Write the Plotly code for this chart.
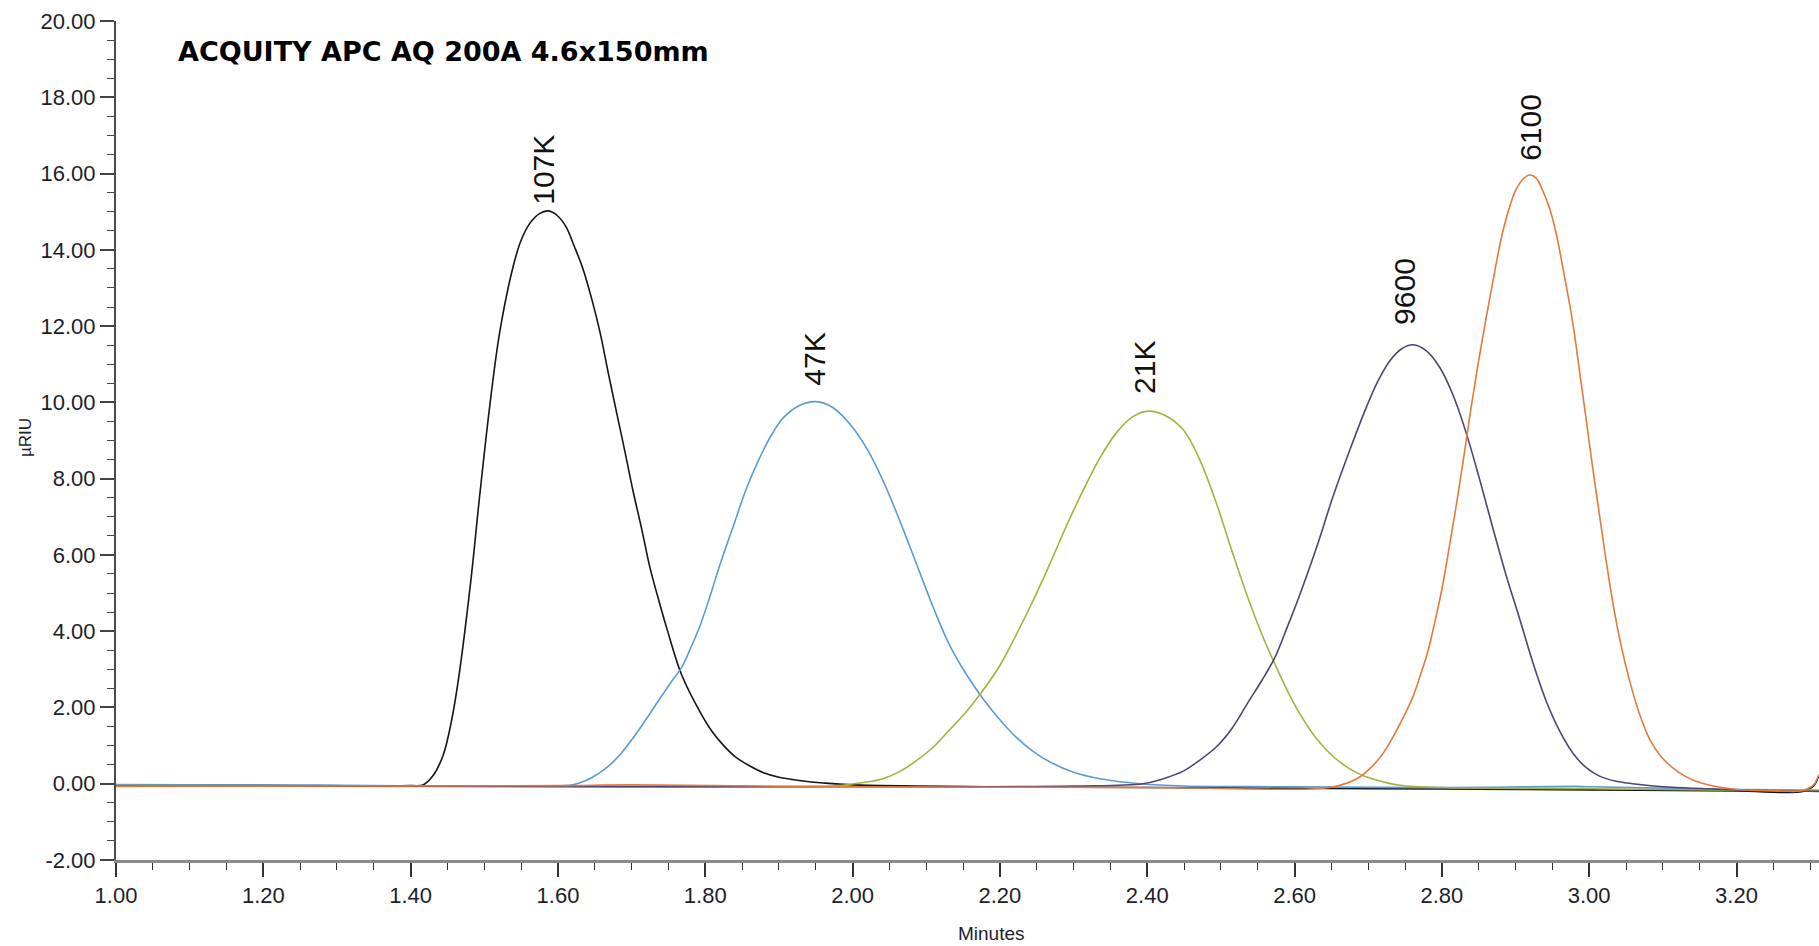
import plotly.graph_objects as go

# ---------------- data ----------------
t_107k = [1.00, 1.20, 1.40, 1.417, 1.430, 1.444, 1.455, 1.465, 1.481, 1.494, 1.508, 1.521, 1.539,
          1.550, 1.562, 1.575, 1.587, 1.599, 1.611, 1.622, 1.634, 1.646, 1.657, 1.668, 1.680,
          1.691, 1.702, 1.714, 1.725, 1.737, 1.748, 1.768, 1.793, 1.810, 1.825, 1.840, 1.860,
          1.880, 1.900, 1.930, 1.960, 2.00, 2.20, 2.40, 2.60, 2.80, 3.00, 3.20, 3.29, 3.305,
          3.312]
v_107k = [-0.03, -0.04, -0.05, -0.03, 0.20, 0.74, 1.60, 2.75, 5.20, 7.60, 10.00, 11.85, 13.55,
          14.25, 14.70, 14.95, 15.02, 14.90, 14.60, 14.10, 13.50, 12.70, 11.85, 10.80, 9.70,
          8.70, 7.67, 6.65, 5.66, 4.80, 4.06, 2.85, 1.88, 1.35, 1.00, 0.72, 0.47,
          0.28, 0.17, 0.08, 0.02, -0.03, -0.08, -0.10, -0.12, -0.14, -0.16, -0.19, -0.20, -0.05,
          0.22]

t_47k = [1.00, 1.30, 1.58, 1.62, 1.645, 1.666, 1.685, 1.702, 1.720, 1.738, 1.755, 1.768, 1.780,
         1.793, 1.807, 1.820, 1.838, 1.856, 1.874, 1.890, 1.906, 1.928, 1.950, 1.972, 1.996,
         2.019, 2.041, 2.064, 2.087, 2.110, 2.132, 2.155, 2.177, 2.200, 2.222, 2.245, 2.268,
         2.300, 2.336, 2.390, 2.45, 2.60, 2.80, 2.98, 3.00, 3.20, 3.312]
v_47k = [-0.02, -0.04, -0.06, -0.03, 0.15, 0.42, 0.78, 1.20, 1.70, 2.22, 2.70, 3.05, 3.55,
         4.15, 4.95, 5.75, 6.75, 7.75, 8.55, 9.15, 9.60, 9.92, 10.02, 9.88, 9.44,
         8.80, 7.96, 6.90, 5.75, 4.60, 3.62, 2.85, 2.23, 1.68, 1.22, 0.85, 0.57,
         0.30, 0.13, 0.00, -0.06, -0.08, -0.10, -0.07, -0.08, -0.15, -0.17]

t_21k = [1.00, 1.40, 1.70, 1.95, 1.987, 2.015, 2.041, 2.065, 2.087, 2.110, 2.132, 2.155, 2.177,
         2.200, 2.222, 2.245, 2.268, 2.290, 2.313, 2.336, 2.358, 2.380, 2.402, 2.425, 2.449,
         2.470, 2.494, 2.515, 2.539, 2.556, 2.573, 2.590, 2.607, 2.630, 2.652, 2.675, 2.697,
         2.720, 2.743, 2.80, 3.00, 3.20, 3.312]
v_21k = [-0.05, -0.06, -0.08, -0.07, -0.04, 0.03, 0.13, 0.33, 0.61, 0.97, 1.42, 1.90, 2.45,
         3.10, 3.90, 4.80, 5.77, 6.75, 7.69, 8.55, 9.20, 9.62, 9.77, 9.65, 9.28,
         8.55, 7.35, 6.10, 4.75, 3.90, 3.15, 2.45, 1.84, 1.18, 0.72, 0.39, 0.18,
         0.05, -0.04, -0.10, -0.13, -0.17, -0.18]

t_9600 = [1.00, 1.50, 2.00, 2.30, 2.394, 2.420, 2.449, 2.470, 2.494, 2.515, 2.539, 2.556, 2.573,
          2.590, 2.607, 2.630, 2.652, 2.675, 2.697, 2.713, 2.729, 2.745, 2.761, 2.779, 2.797,
          2.815, 2.833, 2.851, 2.869, 2.887, 2.906, 2.924, 2.942, 2.960, 2.978, 2.996, 3.014,
          3.035, 3.059, 3.10, 3.20, 3.312]
v_9600 = [-0.06, -0.07, -0.08, -0.06, 0.00, 0.12, 0.33, 0.60, 0.97, 1.45, 2.20, 2.72, 3.30,
          4.10, 4.95, 6.20, 7.52, 8.75, 9.85, 10.55, 11.08, 11.40, 11.51, 11.35, 10.92,
          10.20, 9.20, 8.00, 6.72, 5.48, 4.30, 3.15, 2.15, 1.38, 0.80, 0.42, 0.20,
          0.07, 0.00, -0.08, -0.16, -0.20]

t_6100 = [1.00, 1.30, 1.60, 1.70, 2.00, 2.40, 2.629, 2.660, 2.688, 2.705, 2.720, 2.740, 2.760,
          2.770, 2.780, 2.790, 2.800, 2.810, 2.820, 2.830, 2.840, 2.850, 2.860, 2.870, 2.880,
          2.890, 2.900, 2.910, 2.919, 2.928, 2.937, 2.946, 2.955, 2.966, 2.978, 2.987, 2.996,
          3.005, 3.014, 3.023, 3.032, 3.043, 3.055, 3.068, 3.082, 3.098, 3.114, 3.130, 3.150,
          3.195, 3.250, 3.286, 3.300, 3.306, 3.312]
v_6100 = [-0.07, -0.06, -0.05, -0.03, -0.08, -0.10, -0.13, -0.05, 0.17, 0.45, 0.79, 1.45, 2.25,
          2.80, 3.40, 4.20, 5.10, 6.20, 7.35, 8.60, 9.90, 11.10, 12.20, 13.25, 14.25,
          15.00, 15.55, 15.85, 15.96, 15.88, 15.55, 15.10, 14.44, 13.35, 12.05, 10.80, 9.54,
          8.25, 7.04, 5.85, 4.76, 3.65, 2.69, 1.85, 1.17, 0.70, 0.41, 0.20, 0.03,
          -0.14, -0.18, -0.19, -0.10, 0.00, 0.24]

peak_labels = ["107K", "47K", "21K", "9600", "6100"]
label_time = [1.580, 1.949, 2.396, 2.749, 2.920]     # minutes (centre of each label)
label_base = [15.16, 10.40, 10.19, 12.00, 16.30]     # µRIU (bottom of each label)

y_tick_vals = [-2, 0, 2, 4, 6, 8, 10, 12, 14, 16, 18, 20]
y_tick_text = ["-2.00", "0.00", "2.00", "4.00", "6.00", "8.00", "10.00", "12.00", "14.00",
               "16.00", "18.00", "20.00"]

title_text = "ACQUITY APC AQ 200A 4.6x150mm"

# ---------------- styling ----------------
W, H = 1819, 946
ML, MR, MT, MB = 116, 0, 21, 86
PW, PH = W - ML - MR, H - MT - MB

series = [
    (t_107k, v_107k, "#151515", "107K"),
    (t_47k, v_47k, "#5b9bd5", "47K"),
    (t_21k, v_21k, "#a4b23e", "21K"),
    (t_9600, v_9600, "#4a4778", "9600"),
    (t_6100, v_6100, "#e27b3b", "6100"),
]

fig = go.Figure()
for t, v, col, name in series:
    fig.add_trace(go.Scatter(x=t, y=v, mode="lines", name=name,
                             line=dict(color=col, width=1.6, shape="spline", smoothing=1.0),
                             showlegend=False, hoverinfo="x+y+name"))

tick_font = dict(family="Liberation Sans, Arial, sans-serif", size=22, color="#1e1e2a")

fig.update_layout(
    width=W, height=H,
    margin=dict(l=ML, r=MR, t=MT, b=MB, pad=0),
    paper_bgcolor="white", plot_bgcolor="white",
    xaxis=dict(range=[1.0, 3.312], dtick=0.2, tick0=1.0, tickformat=".2f",
               showgrid=False, zeroline=False, showline=True, linecolor="#8a8a8a", linewidth=3,
               ticks="outside", ticklen=14, tickwidth=1.5, tickcolor="#333",
               tickfont=tick_font,
               minor=dict(dtick=0.05, ticks="outside", ticklen=7, tickwidth=1.3, tickcolor="#333")),
    yaxis=dict(range=[-2, 20], tickmode="array", tickvals=y_tick_vals, ticktext=y_tick_text,
               showgrid=False, zeroline=False, showline=True, linecolor="#4a4a4a", linewidth=2,
               ticks="outside", ticklen=14, tickwidth=1.5, tickcolor="#444",
               tickfont=tick_font,
               minor=dict(tickmode="linear", tick0=0, dtick=0.5, ticks="outside", ticklen=7,
                          tickwidth=1.3, tickcolor="#444")),
)

annotations = []
for lab, tx, ty in zip(peak_labels, label_time, label_base):
    annotations.append(dict(x=tx, y=ty, xref="x", yref="y", text=lab, showarrow=False,
                            textangle=-90, xanchor="center", yanchor="bottom", borderpad=0,
                            font=dict(family="Liberation Sans, Arial, sans-serif", size=30,
                                      color="#111111")))


def px_x(p):
    return (p - ML) / PW


def px_y(p):
    return (H - MB - p) / PH


annotations.append(dict(x=px_x(176), y=px_y(52), xref="paper", yref="paper", text=title_text,
                        showarrow=False, xanchor="left", yanchor="middle",
                        font=dict(family="DejaVu Sans, Verdana, sans-serif", size=27,
                                  color="#000000", weight="bold")))
annotations.append(dict(x=px_x(26), y=px_y(438), xref="paper", yref="paper", text="µRIU",
                        showarrow=False, textangle=-90, xanchor="center", yanchor="middle",
                        font=dict(family="Liberation Sans, Arial, sans-serif", size=17,
                                  color="#1e1e2a")))
annotations.append(dict(x=px_x(992), y=px_y(934), xref="paper", yref="paper", text="Minutes",
                        showarrow=False, xanchor="center", yanchor="middle",
                        font=dict(family="Liberation Sans, Arial, sans-serif", size=19,
                                  color="#1e1e2a")))
fig.update_layout(annotations=annotations)

fig.write_html("out.html")
